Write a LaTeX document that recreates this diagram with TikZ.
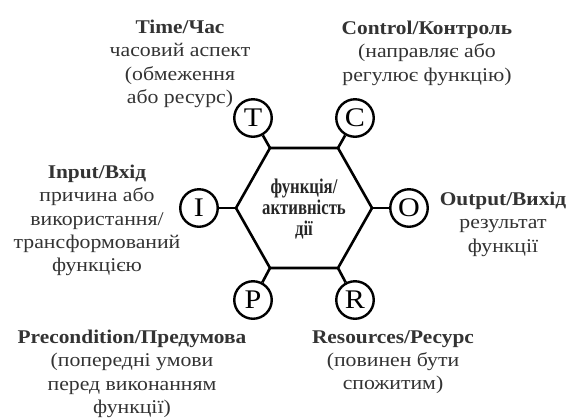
\documentclass[tikz,border=0pt]{standalone}
\usepackage{fontspec}
\setmainfont[FakeStretch=1.12,BoldFeatures={FakeStretch=1.1}]{Liberation Serif}
\newfontfamily\hexfont[FakeStretch=0.8,BoldFeatures={FakeStretch=0.8}]{Liberation Serif}
\begin{document}
\begin{tikzpicture}[x=1bp,y=-1bp,
  line width=2.6bp,
  txt/.style={align=center,inner sep=0pt,anchor=north,text=black!80,
    font=\fontsize{19.5}{23.2}\selectfont},
  letter/.style={circle,draw=black,line width=2.4bp,minimum size=37.5bp,inner sep=0pt,
    font=\fontsize{27}{27}\selectfont},
  hextxt/.style={align=center,inner sep=0pt,text=black!85,
    font=\hexfont\bfseries\fontsize{21}{21.5}\selectfont}]
\useasboundingbox (0,0) rectangle (569,418);
% hexagon
\coordinate (vl) at (236,208);
\coordinate (vtl) at (270,148);
\coordinate (vtr) at (338,148);
\coordinate (vr) at (372,208);
\coordinate (vbr) at (338,268);
\coordinate (vbl) at (270,268);
\draw[line join=miter] (vl) -- (vtl) -- (vtr) -- (vr) -- (vbr) -- (vbl) -- cycle;
\node[hextxt] (hex) at (304,209) {функція/\\активність\\дії};
% circles
\node[letter] (T) at (253,118) {T};
\node[letter] (C) at (355,118) {C};
\node[letter] (I) at (199,208) {I};
\node[letter] (O) at (409,208) {O};
\node[letter] (P) at (253,300) {P};
\node[letter] (R) at (355,300) {R};
\draw (T) -- (vtl);
\draw (C) -- (vtr);
\draw (I) -- (vl);
\draw (O) -- (vr);
\draw (P) -- (vbl);
\draw (R) -- (vbr);
% labels
\node[txt] (tT) at (180,19) {\textbf{Time/Час}\\часовий аспект\\(обмеження\\або ресурс)};
\node[txt] (tC) at (427,20) {\textbf{Control/Контроль}\\(направляє або\\регулює функцію)};
\node[txt] (tI) at (97,164) {\textbf{Input/Вхід}\\причина або\\використання/\\трансформований\\функцією};
\node[txt] (tO) at (503,191) {\textbf{Output/Вихід}\\результат\\функції};
\node[txt] (tP) at (132,329) {\textbf{Precondition/Предумова}\\(попередні умови\\перед виконанням\\функції)};
\node[txt] (tR) at (393,329) {\textbf{Resources/Ресурс}\\(повинен бути\\спожитим)};
\end{tikzpicture}
\end{document}
